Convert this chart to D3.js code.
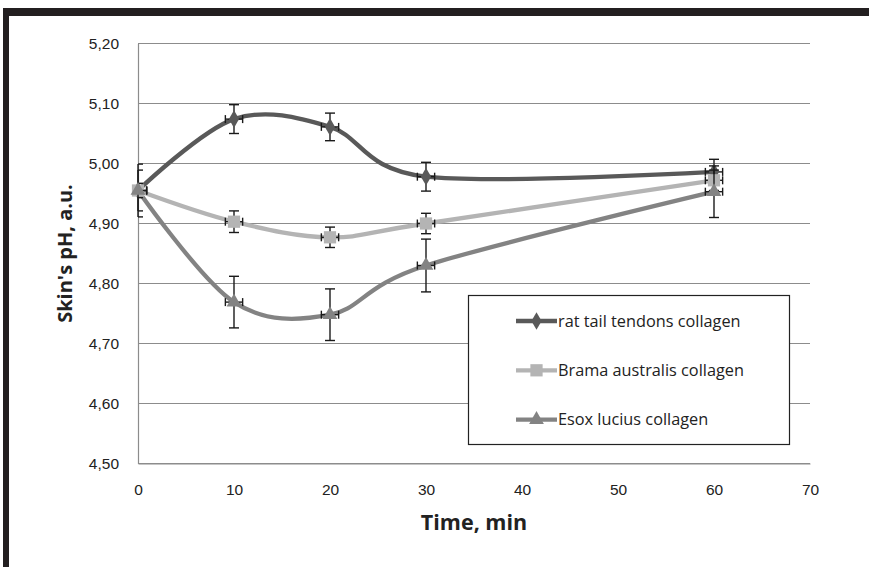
<!DOCTYPE html>
<html>
<head>
<meta charset="utf-8">
<script src="https://cdn.jsdelivr.net/npm/d3@7"></script>
<style>
  body { margin: 0; background: #fff; }
  svg { display: block; font-family: "Open Sans", "Noto Sans", sans-serif; }
</style>
</head>
<body>
<svg id="chart" width="869" height="567"></svg>
<script>
// time points (min)
var times = [0, 10, 20, 30, 60];
var xTicks = [0, 10, 20, 30, 40, 50, 60, 70];
var yTicks = [4.5, 4.6, 4.7, 4.8, 4.9, 5.0, 5.1, 5.2];

// skin pH per series
var ratValues = [4.955, 5.074, 5.061, 4.978, 4.986];
var ratErrors = [0.044, 0.024, 0.023, 0.024, 0.021];
var bramaValues = [4.955, 4.903, 4.877, 4.900, 4.972];
var bramaErrors = [0.012, 0.018, 0.017, 0.017, 0.017];
var esoxValues = [4.955, 4.769, 4.748, 4.830, 4.953];
var esoxErrors = [0.034, 0.043, 0.043, 0.044, 0.043];
var xError = 0.9;

var seriesNames = ["rat tail tendons collagen", "Brama australis collagen", "Esox lucius collagen"];

var series = [
    { name: seriesNames[0], values: ratValues, errors: ratErrors, color: "#595959", symbol: d3.symbolDiamond, size: 90 },
    { name: seriesNames[1], values: bramaValues, errors: bramaErrors, color: "#b4b4b4", symbol: d3.symbolSquare, size: 150 },
    { name: seriesNames[2], values: esoxValues, errors: esoxErrors, color: "#838383", symbol: d3.symbolTriangle, size: 95 }
];

var svg = d3.select("#chart");
var margin = { left: 138, right: 810, top: 43.5, bottom: 463.5 };

var x = d3.scaleLinear().domain([0, 70]).range([margin.left, margin.right]);
var y = d3.scaleLinear().domain([4.5, 5.2]).range([margin.bottom, margin.top]);
var fmt = function (v) { return d3.format(".2f")(v).replace(".", ","); };

// outer frame (top and left black bars)
svg.append("rect").attr("x", 3).attr("y", 8).attr("width", 866).attr("height", 8).attr("fill", "#231f20");
svg.append("rect").attr("x", 3).attr("y", 8).attr("width", 6).attr("height", 559).attr("fill", "#231f20");

// gridlines
svg.append("g").selectAll("line")
    .data(yTicks)
    .enter().append("line")
    .attr("x1", margin.left).attr("x2", margin.right)
    .attr("y1", function (d) { return y(d); })
    .attr("y2", function (d) { return y(d); })
    .attr("stroke", "#8c8c8c").attr("stroke-width", 1);

// axes
var yAxis = d3.axisLeft(y).tickValues(yTicks).tickFormat(fmt).tickSize(0).tickPadding(19);
var xAxis = d3.axisBottom(x).tickValues(xTicks).tickFormat(d3.format("d")).tickSize(0).tickPadding(20);

var gy = svg.append("g").attr("transform", "translate(" + margin.left + ",0)").call(yAxis);
var gx = svg.append("g").attr("transform", "translate(0," + margin.bottom + ")").call(xAxis);
[gx, gy].forEach(function (g) {
    g.select(".domain").attr("stroke", "#8c8c8c").attr("stroke-width", 1.2);
    g.selectAll("text").attr("font-size", 15.5).attr("fill", "#222").attr("font-family", "inherit");
});

// axis titles
svg.append("text")
    .attr("x", x(35)).attr("y", 530)
    .attr("text-anchor", "middle")
    .attr("font-size", 21.5).attr("font-weight", "bold").attr("fill", "#222")
    .text("Time, min");
svg.append("text")
    .attr("transform", "translate(72," + y(4.85) + ") rotate(-90)")
    .attr("text-anchor", "middle")
    .attr("font-size", 20).attr("font-weight", "bold").attr("fill", "#222")
    .text("Skin's pH, a.u.");

var line = d3.line()
    .x(function (d, i) { return x(times[i]); })
    .y(function (d) { return y(d); })
    .curve(d3.curveCardinal.tension(0));

var plot = svg.append("g");

series.forEach(function (s) {
    plot.append("path")
        .datum(s.values)
        .attr("d", line)
        .attr("fill", "none")
        .attr("stroke", s.color)
        .attr("stroke-width", 4.3);
});

series.forEach(function (s) {
    var g = plot.append("g");
    var pts = s.values.map(function (v, i) { return { t: times[i], v: v, e: s.errors[i] }; });

    // error bars, y then x
    var eb = g.selectAll(".eb").data(pts).enter().append("g")
        .attr("stroke", "#1a1a1a").attr("stroke-width", 1.4).attr("fill", "none");
    eb.append("line")
        .attr("x1", function (d) { return x(d.t); }).attr("x2", function (d) { return x(d.t); })
        .attr("y1", function (d) { return y(d.v + d.e); }).attr("y2", function (d) { return y(d.v - d.e); });
    eb.append("line")
        .attr("x1", function (d) { return Math.max(margin.left, x(d.t) - 5); }).attr("x2", function (d) { return x(d.t) + 5; })
        .attr("y1", function (d) { return y(d.v + d.e); }).attr("y2", function (d) { return y(d.v + d.e); });
    eb.append("line")
        .attr("x1", function (d) { return Math.max(margin.left, x(d.t) - 5); }).attr("x2", function (d) { return x(d.t) + 5; })
        .attr("y1", function (d) { return y(d.v - d.e); }).attr("y2", function (d) { return y(d.v - d.e); });
    eb.append("line")
        .attr("x1", function (d) { return x(Math.max(0, d.t - xError)); }).attr("x2", function (d) { return x(d.t + xError); })
        .attr("y1", function (d) { return y(d.v); }).attr("y2", function (d) { return y(d.v); });
    eb.filter(function (d) { return d.t > 0; }).append("line")
        .attr("x1", function (d) { return x(d.t - xError); }).attr("x2", function (d) { return x(d.t - xError); })
        .attr("y1", function (d) { return y(d.v) - 4; }).attr("y2", function (d) { return y(d.v) + 4; });
    eb.append("line")
        .attr("x1", function (d) { return x(d.t + xError); }).attr("x2", function (d) { return x(d.t + xError); })
        .attr("y1", function (d) { return y(d.v) - 4; }).attr("y2", function (d) { return y(d.v) + 4; });

    g.selectAll(".mk").data(pts).enter().append("path")
        .attr("d", d3.symbol().type(s.symbol).size(s.size))
        .attr("transform", function (d) { return "translate(" + x(d.t) + "," + y(d.v) + ")"; })
        .attr("fill", s.color);
});

// legend
var legend = svg.append("g");
legend.append("rect")
    .attr("x", 468.5).attr("y", 295.5).attr("width", 321).attr("height", 149)
    .attr("fill", "#fff").attr("stroke", "#222").attr("stroke-width", 1.2);
var entry = legend.selectAll(".entry").data(series).enter().append("g")
    .attr("transform", function (d, i) { return "translate(0," + (321 + i * 49.3) + ")"; });
entry.append("line")
    .attr("x1", 516).attr("x2", 557).attr("y1", 0).attr("y2", 0)
    .attr("stroke", function (d) { return d.color; }).attr("stroke-width", 4.3);
entry.append("path")
    .attr("d", function (d) { return d3.symbol().type(d.symbol).size(d.size)(); })
    .attr("transform", "translate(536.5,0)")
    .attr("fill", function (d) { return d.color; });
entry.append("text")
    .attr("x", 558).attr("y", 5.5)
    .attr("font-size", 16.3).attr("fill", "#222")
    .text(function (d) { return d.name; });
</script>
</body>
</html>
